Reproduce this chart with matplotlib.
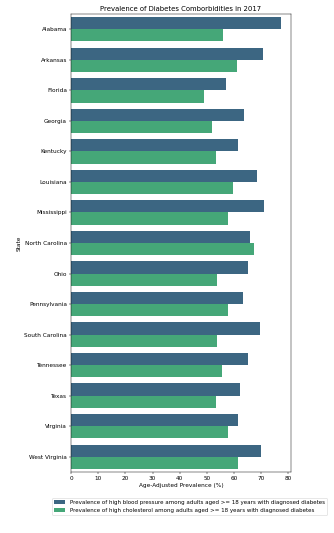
import numpy as np
import matplotlib
matplotlib.use("Agg")
import matplotlib.pyplot as plt

states = ["Alabama", "Arkansas", "Florida", "Georgia", "Kentucky", "Louisiana",
          "Mississippi", "North Carolina", "Ohio", "Pennsylvania", "South Carolina",
          "Tennessee", "Texas", "Virginia", "West Virginia"]
high_bp = [77.1, 70.7, 57.2, 63.5, 61.5, 68.5, 71.0, 65.7, 65.3, 63.4, 69.6, 65.2, 62.2, 61.5, 70.0]
high_chol = [55.9, 61.1, 48.9, 51.9, 53.4, 59.7, 57.6, 67.2, 53.7, 57.6, 53.9, 55.4, 53.3, 57.6, 61.5]
series_labels = [
    "Prevalence of high blood pressure among adults aged >= 18 years with diagnosed diabetes",
    "Prevalence of high cholesterol among adults aged >= 18 years with diagnosed diabetes",
]
colors = ["#3c6682", "#45a778"]

DPI = 41.4
W, H = 334, 533
fig = plt.figure(figsize=(W / DPI, H / DPI), dpi=DPI)
ax = fig.add_axes([71 / W, 1 - 472 / H, (291 - 71) / W, (472 - 14) / H])

y = np.arange(len(states))
h = 0.4
ax.barh(y - h / 2, high_bp, height=h, color=colors[0], label=series_labels[0])
ax.barh(y + h / 2, high_chol, height=h, color=colors[1], label=series_labels[1])

ax.set_yticks(y)
ax.set_yticklabels(states)
ax.set_ylim(len(states) - 0.5, -0.5)
ax.set_xlim(0, max(max(high_bp), max(high_chol)) * 1.05)
ax.set_xticks(np.arange(0, 81, 10))
ax.set_xlabel("Age-Adjusted Prevalence (%)")
ax.set_ylabel("State")
ax.set_title("Prevalence of Diabetes Comborbidities in 2017")

fig.legend(loc="upper left", bbox_to_anchor=(52 / W, 1 - 498 / H), borderaxespad=0,
           fontsize=9.6)

fig.savefig("out.png", dpi=DPI)
